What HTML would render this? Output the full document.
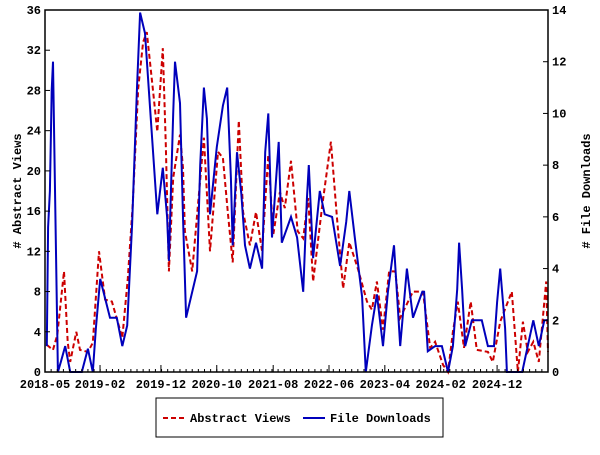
<!DOCTYPE html>
<html><head><meta charset="utf-8"><style>
html,body{margin:0;padding:0;background:#fff;}
svg text{font-family:"Liberation Mono",monospace;font-weight:bold;font-size:12px;fill:#000;}
</style></head><body>
<svg id="chart" width="600" height="450" xmlns="http://www.w3.org/2000/svg">
<rect x="0" y="0" width="600" height="450" fill="#fff"/>
<g id="grid"></g>
<g id="series"></g>
<rect x="45" y="10" width="503" height="362" fill="none" stroke="#000" stroke-width="1.5"/>
<g id="axes"></g>
<text transform="translate(21,191) rotate(-90)" text-anchor="middle" font-size="13">&#35; Abstract Views</text>
<text transform="translate(590,191) rotate(-90)" text-anchor="middle" font-size="13">&#35; File Downloads</text>
<g>
<rect x="156" y="398" width="287" height="39" fill="#fff" stroke="#000" stroke-width="1"/>
<line x1="163" y1="418" x2="184" y2="418" stroke="#cc0000" stroke-width="2" stroke-dasharray="5,3"/>
<text x="190" y="422">Abstract Views</text>
<line x1="303" y1="418" x2="325" y2="418" stroke="#0000bb" stroke-width="2"/>
<text x="330" y="422">File Downloads</text>
</g>
</svg>
<script>
const viewMonths = [0.3,1.3,2.0,3.1,3.7,4.1,5.1,5.7,7.0,7.8,8.8,9.8,10.9,12.6,13.5,14.3,15.2,16.0,16.6,17.6,18.3,19.2,19.7,20.2,20.9,22.0,22.5,22.8,24.0,24.9,25.9,26.9,28.2,29.0,29.8,30.6,31.6,32.3,33.4,34.4,35.4,35.9,36.4,37.2,38.3,39.1,40.1,41.2,42.1,42.9,43.7,45.2,46.6,47.6,48.6,49.6,51.0,52.5,53.3,54.1,55.1,56.1,57.1,57.9,58.7,60.0,61.6,62.8,63.6,64.9,65.7,66.5,67.3,68.3,69.4,70.4,72.2,73.0,74.2,76.1,77.1,77.9,78.7,79.6,80.5,81.7,82];
const viewValues = [2.7,2.2,3.7,10,3,1,4,2.2,2,2.9,12,7.2,7,3.4,9.3,16.6,28.2,32.8,33.8,28,23.9,32.2,22.6,10,19.3,23.6,20.3,14,10,16.3,23.3,12,21.9,21.3,15.9,10.9,25,15.9,12.6,15.9,12,16.9,21.6,13.6,17.9,16.3,21,14,13.3,17.3,9,16.6,22.9,15.3,8.3,12.9,10.3,7,6.2,9,4.2,10,10,5.4,6.4,8,8,2.4,3,0.7,0,4,7,2.4,7,2.2,2,1,5,8,0,5,2,3,1,9,2];
const dlMonths = [0.3,0.5,0.8,1.1,1.3,1.5,2.1,2.6,3.3,4.1,6.0,7.0,7.8,8.3,9.0,10.6,11.7,12.6,13.4,14.2,15.0,15.5,16.3,17.1,18.3,19.2,19.9,20.2,20.9,21.2,22.0,22.5,23.0,24.8,25.3,25.9,26.4,26.9,28.0,29.0,29.7,30.3,30.6,31.3,32.0,32.6,33.4,34.4,35.4,35.9,36.4,37.0,38.1,38.6,40.1,41.1,42.1,42.7,43.0,43.7,44.3,44.8,45.6,46.8,48.1,49.1,49.6,50.5,51.7,52.3,53.3,54.1,55.1,55.9,56.9,57.9,59.0,60.0,61.5,61.8,62.4,63.6,64.7,65.7,66.5,67.2,67.5,68.0,68.5,69.6,71.2,72.2,73.2,73.7,74.2,75.0,75.3,77.8,79.6,80.5,81.4,82];
const dlValues = [1,5.6,7,10.9,12,9,0,0.4,1,0,0,0.9,0,1.7,3.6,2.1,2.1,1,1.8,5.7,11,13.9,13.1,10.3,6.1,7.9,6,4.3,10,12,10.4,6,2.1,3.9,8,11,9.8,6.1,8.7,10.3,11,7.5,4.9,8.5,6.9,4.9,4,5,4,8.5,10,5.2,8.9,5,6,5.2,3.1,6.7,8,4.4,5.8,7,6.1,6,4.1,5.8,7,5.2,2.9,0,1.8,3,1,3.1,4.9,1,4,2.1,3.1,3.1,0.8,1,1,0,1,3.2,5,3.2,1,2,2,1,1,2.7,4,1.7,0,0,2,1,2,2];
const xTickLabels = ["2018-05","2019-02","2019-12","2020-10","2021-08","2022-06","2023-04","2024-02","2024-12"];
const xTickMonths = [0,8.97,18.9,28.0,37.2,46.3,55.4,64.5,73.7];
const leftTicks = [0,4,8,12,16,20,24,28,32,36];
const rightTicks = [0,2,4,6,8,10,12,14];

const X0=45,X1=548,Y0=372,Y1=10;
const xs = t => X0 + t/82*(X1-X0);
const yl = v => Y0 - v/36*(Y0-Y1);
const yr = v => Y0 - v/14*(Y0-Y1);
const NS='http://www.w3.org/2000/svg';
const axes=document.getElementById('axes');
const series=document.getElementById('series');
function mk(tag,attrs,parent){const e=document.createElementNS(NS,tag);for(const k in attrs)e.setAttribute(k,attrs[k]);parent.appendChild(e);return e;}

leftTicks.forEach(v=>{
  const y=yl(v);
  const l=mk('line',{x1:X0,y1:y,x2:X0+5,y2:y,stroke:'#000'},axes);
  
  
  const t=mk('text',{x:X0-4,y:y+4,'text-anchor':'end'},axes);
  
  
  t.textContent=v;
});
rightTicks.forEach(v=>{
  const y=yr(v);
  const l=mk('line',{x1:X1-5,y1:y,x2:X1,y2:y,stroke:'#000'},axes);
  
  
  const t=mk('text',{x:X1+4,y:y+4,'text-anchor':'start'},axes);
  
  
  t.textContent=v;
});
for(let m=0;m<=82;m+=1){
  const x=xs(m);
  const l=mk('line',{x1:x,y1:Y0,x2:x,y2:Y0-3,stroke:'#000'},axes);
  
  
}
xTickMonths.forEach((m,i)=>{
  const x=xs(m);
  const l=mk('line',{x1:x,y1:Y0,x2:x,y2:Y0-7,stroke:'#000'},axes);
  
  
  const t=mk('text',{x:x,y:Y0+16,'text-anchor':'middle'},axes);
  
  
  t.textContent=xTickLabels[i];
});
const vp=viewMonths.map((m,i)=>xs(m).toFixed(1)+','+yl(viewValues[i]).toFixed(1)).join(' ');
const rl=mk('polyline',{points:vp,fill:'none',stroke:'#cc0000','stroke-width':2,'stroke-dasharray':'5,3'},series);


const dp=dlMonths.map((m,i)=>xs(m).toFixed(1)+','+yr(dlValues[i]).toFixed(1)).join(' ');
const bl=mk('polyline',{points:dp,fill:'none',stroke:'#0000bb','stroke-width':2},series);


</script>
</body></html>
